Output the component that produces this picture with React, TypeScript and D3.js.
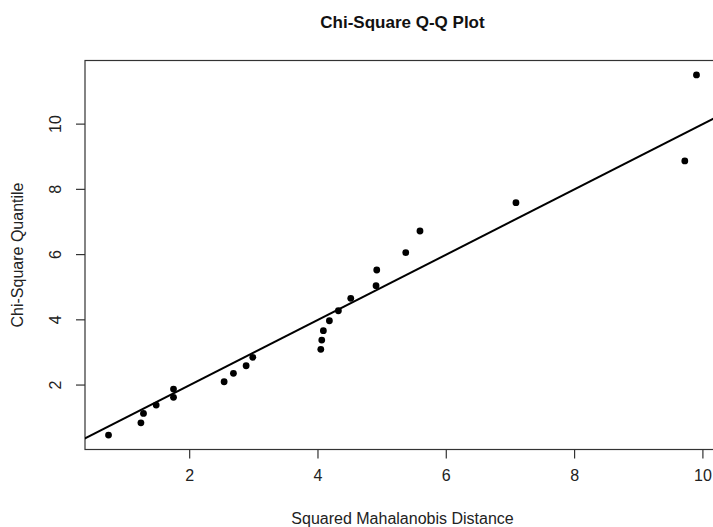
import React, { useEffect } from "react";
import * as d3 from "d3";

const distances = [0.735, 1.24, 1.28, 1.478, 1.748, 1.748, 2.537, 2.682, 2.88, 2.984, 4.044, 4.059, 4.084, 4.178, 4.318, 4.511, 4.905, 4.916, 5.368, 5.59, 7.086, 9.718, 9.9];
const quantiles = [0.466, 0.843, 1.131, 1.387, 1.623, 1.877, 2.101, 2.359, 2.592, 2.85, 3.095, 3.38, 3.666, 3.972, 4.279, 4.659, 5.046, 5.528, 6.058, 6.724, 7.592, 8.871, 11.509];
const xTicks = [2, 4, 6, 8, 10];
const yTicks = [2, 4, 6, 8, 10];
const title = "Chi-Square Q-Q Plot";
const xLabel = "Squared Mahalanobis Distance";
const yLabel = "Chi-Square Quantile";

const W = 713, H = 527;
const L = 85, R = 720, T = 60.5, B = 449.5;

function padded(vals: number[]): [number, number] {
  const lo = d3.min(vals)!, hi = d3.max(vals)!;
  const r = hi - lo;
  return [lo - 0.04 * r, hi + 0.04 * r];
}

export default function App() {
  useEffect(() => { document.body.style.margin = "0"; }, []);
  const x = d3.scaleLinear().domain(padded(distances)).range([L, R]);
  const y = d3.scaleLinear().domain(padded(quantiles)).range([B, T]);
  const xd = x.domain();
  const line = d3.line<number>().x(v => x(v)).y(v => y(v));
  const font = "'Liberation Sans', Arial, sans-serif";
  const cx = (L + R) / 2;
  const cy = (T + B) / 2;
  return (
    <svg width={W} height={H} style={{ display: "block", background: "#fff" }} fontFamily={font}>
      <defs>
        <clipPath id="plotclip"><rect x={L} y={T} width={R - L} height={B - T} /></clipPath>
      </defs>
      <text x={cx} y={28} textAnchor="middle" fontWeight="bold" fontSize={17} fill="#111">{title}</text>
      <rect x={L} y={T} width={R - L} height={B - T} fill="none" stroke="#333" strokeWidth={1.2} />
      {xTicks.map(t => (
        <g key={"x" + t}>
          <line x1={x(t)} x2={x(t)} y1={B} y2={B + 9} stroke="#333" strokeWidth={1.2} />
          <text x={x(t)} y={481} textAnchor="middle" fontSize={16} fill="#222">{t}</text>
        </g>
      ))}
      {yTicks.map(t => (
        <g key={"y" + t}>
          <line x1={L - 9} x2={L} y1={y(t)} y2={y(t)} stroke="#333" strokeWidth={1.2} />
          <text transform={`translate(61,${y(t)}) rotate(-90)`} textAnchor="middle" fontSize={16} fill="#222">{t}</text>
        </g>
      ))}
      <text x={cx} y={524} textAnchor="middle" fontSize={16} fill="#222">{xLabel}</text>
      <text transform={`translate(23,${cy}) rotate(-90)`} textAnchor="middle" fontSize={16} fill="#222">{yLabel}</text>
      <g clipPath="url(#plotclip)">
        <path d={line([xd[0] - 1, xd[1] + 1])!} stroke="#000" strokeWidth={2} fill="none" />
        {distances.map((d, i) => (
          <circle key={i} cx={x(d)} cy={y(quantiles[i])} r={3.4} fill="#000" />
        ))}
      </g>
    </svg>
  );
}
